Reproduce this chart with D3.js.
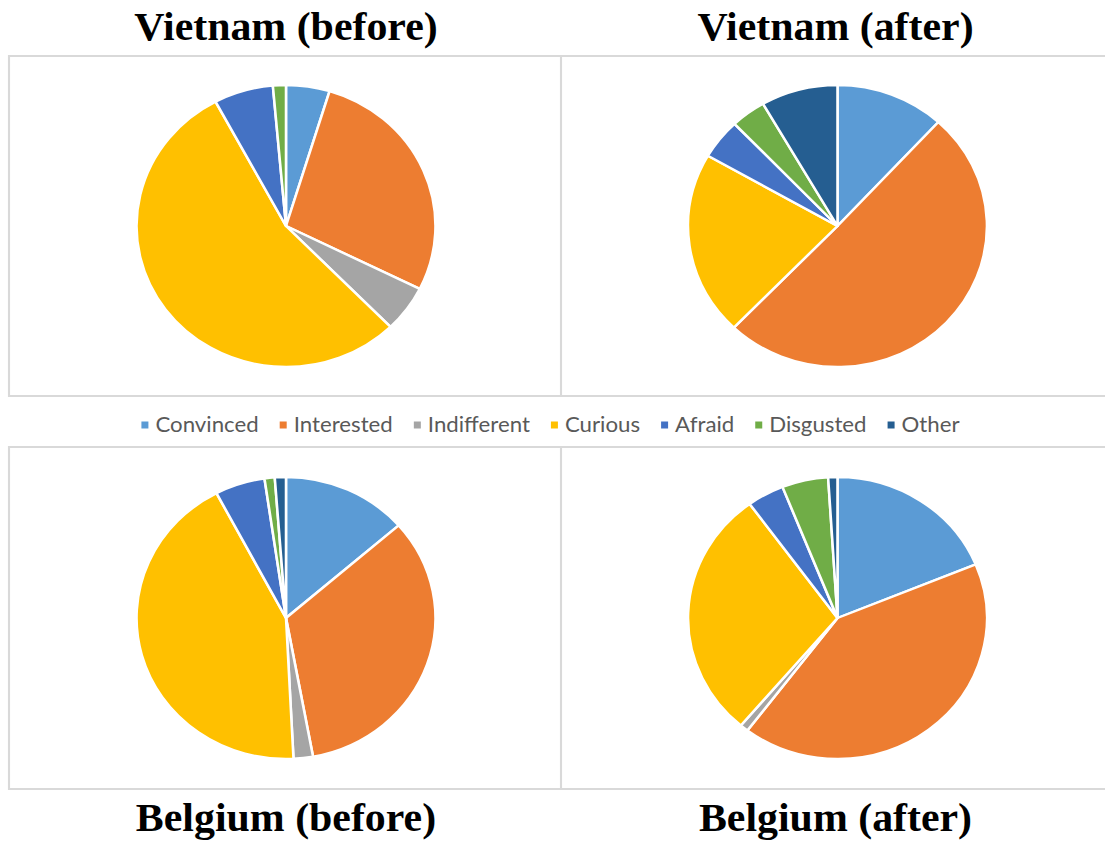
<!DOCTYPE html>
<html><head><meta charset="utf-8">
<script src="https://cdn.jsdelivr.net/npm/d3@7"></script>
<style>html,body{margin:0;padding:0;background:#fff;} svg{display:block}</style>
</head><body><svg id="c" width="1105" height="841"></svg>
<script>
const categories = ["Convinced","Interested","Indifferent","Curious","Afraid","Disgusted","Other"];
const colors = ["#5B9BD5","#ED7D31","#A5A5A5","#FFC000","#4472C4","#70AD47","#255E91"];
const vietnamBefore = [4.7, 27.6, 5.3, 54.4, 6.4, 1.4, 0];
const vietnamAfter  = [11.8, 50.4, 0, 21.1, 4.6, 3.8, 8.3];
const belgiumBefore = [13.6, 33.5, 2.1, 43.1, 5.4, 1.1, 1.2];
const belgiumAfter  = [18.8, 41.5, 0.9, 28.8, 4.0, 5.0, 1.0];
const titles = ["Vietnam (before)","Vietnam (after)","Belgium (before)","Belgium (after)"];

const W = 1105, H = 841, SX = 1.06;
const ux = x => x / SX;
const svg = d3.select("#c");
svg.append("rect").attr("width", W).attr("height", H).attr("fill", "#fff");
const root = svg.append("g").attr("transform", `scale(${SX},1)`);

const color = d3.scaleOrdinal(categories, colors);
const R = 141;
const arc = d3.arc().innerRadius(0).outerRadius(R);
const pie = d3.pie().sort(null).value(d => d.v);

const cols = [{x0: 9, x1: 563}, {x0: 561, x1: 1114}];
const rows = [{y0: 56, y1: 396, ty: 40}, {y0: 447, y1: 789, ty: 831}];
const datasets = [vietnamBefore, vietnamAfter, belgiumBefore, belgiumAfter];

const panels = datasets.map((d, i) => ({
  data: d, title: titles[i], col: cols[i % 2], row: rows[Math.floor(i / 2)]
}));
// draw left panels first so right panel border overlays
[0, 2, 1, 3].forEach(i => {
  const p = panels[i];
  const g = root.append("g");
  g.append("rect")
    .attr("x", ux(p.col.x0)).attr("y", p.row.y0)
    .attr("width", ux(p.col.x1 - p.col.x0)).attr("height", p.row.y1 - p.row.y0)
    .attr("fill", "#fff").attr("stroke", "#D9D9D9").attr("stroke-width", 2);
  const cx = ux((p.col.x0 + p.col.x1) / 2), cy = (p.row.y0 + p.row.y1) / 2;
  const pg = g.append("g").attr("transform", `translate(${cx},${cy})`);
  pg.selectAll("path")
    .data(pie(categories.map((c, k) => ({c, v: p.data[k]}))).filter(a => a.data.v > 0))
    .join("path")
    .attr("d", arc)
    .attr("fill", a => color(a.data.c))
    .attr("stroke", "#fff").attr("stroke-width", 2.4).attr("stroke-linejoin", "round");
});
panels.forEach(p => {
  root.append("text")
    .attr("x", ux((p.col.x0 + p.col.x1) / 2) - (p.col.x0 > 100 ? ux(2) : 0))
    .attr("y", p.row.ty)
    .attr("text-anchor", "middle")
    .attr("font-family", "'Liberation Serif','Times New Roman',serif")
    .attr("font-weight", "bold").attr("font-size", 39.5).attr("fill", "#000")
    .text(p.title);
});

// legend
const lg = root.append("g");
const items = lg.selectAll("g").data(categories).join("g");
items.append("rect").attr("width", ux(7)).attr("height", 7).attr("y", 421.5)
  .attr("fill", d => color(d));
const texts = items.append("text").attr("y", 432)
  .attr("font-family", "Lato, 'Open Sans', sans-serif").attr("font-size", 21)
  .attr("fill", "#595959").text(d => d);
const widths = [];
texts.each(function() { widths.push(this.getComputedTextLength()); });
const mGap = ux(7), iGap = ux(21), mW = ux(7);
const total = d3.sum(widths) + categories.length * (mW + mGap) + (categories.length - 1) * iGap;
let xpos = ux(W) / 2 - total / 2 - ux(2);
items.each(function(d, i) {
  d3.select(this).attr("transform", `translate(${xpos},0)`);
  d3.select(this).select("text").attr("x", mW + mGap);
  xpos += mW + mGap + widths[i] + iGap;
});
</script></body></html>
